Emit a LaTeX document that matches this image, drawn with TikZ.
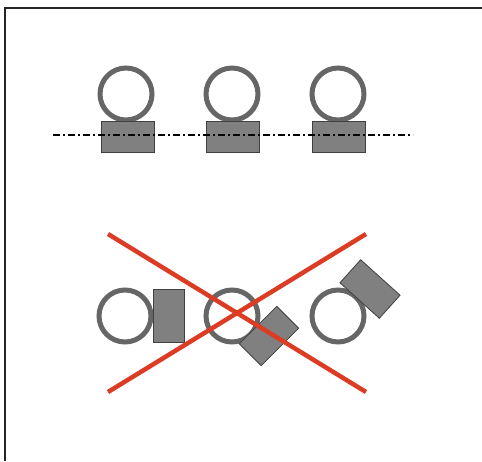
\documentclass[tikz,border=0pt]{standalone}
\usepackage{tikz}
\usetikzlibrary{positioning}
\definecolor{ring}{RGB}{102,102,102}
\definecolor{slabgray}{RGB}{128,128,128}
\definecolor{strike}{RGB}{220,60,36}
\tikzset{
  wheel/.style={circle, draw=ring, line width=5pt, minimum size=52pt, inner sep=0pt},
  pad/.style={draw=black!75, fill=slabgray, line width=0.8pt,
              minimum width=53pt, minimum height=31pt, inner sep=0pt},
  axis/.style={black, line width=1.2pt, dash pattern=on 7pt off 3pt on 2pt off 3pt},
  cross/.style={strike, line width=4.5pt},
  frame/.style={black!85, line width=2pt},
}
\begin{document}
\begin{tikzpicture}[x=1pt,y=-1pt]
        \useasboundingbox (0,0) rectangle (482,461);
        \draw[frame] (482,8) -- (5,8) -- (5,461);
        \node[wheel] (w1) at (126,94) {};
        \node[wheel] (w2) at (232,94) {};
        \node[wheel] (w3) at (338,94) {};
        \node[pad] (p1) at (127.5,136.5) {};
        \node[pad] (p2) at (233,136.5) {};
        \node[pad] (p3) at (339,136.5) {};
        \coordinate (axl) at (53,135);
        \coordinate (axr) at (413,135);
        \draw[axis] (axl) -- (axr);
        \node[wheel] (w4) at (125,316) {};
        \node[wheel] (w5) at (232,316) {};
        \node[wheel] (w6) at (338,316) {};
        \node[pad,rotate=90] (p4) at (169,315.5) {};
        \node[pad,rotate=45] (p5) at (269,336) {};
        \node[pad,rotate=-42] (p6) at (370,289) {};
        \coordinate (xa) at (108,234);
        \coordinate (xb) at (366,392);
        \coordinate (xc) at (108,392);
        \coordinate (xd) at (366,234);
        \draw[cross] (xa) -- (xb);
        \draw[cross] (xc) -- (xd);
      \end{tikzpicture}
\end{document}
